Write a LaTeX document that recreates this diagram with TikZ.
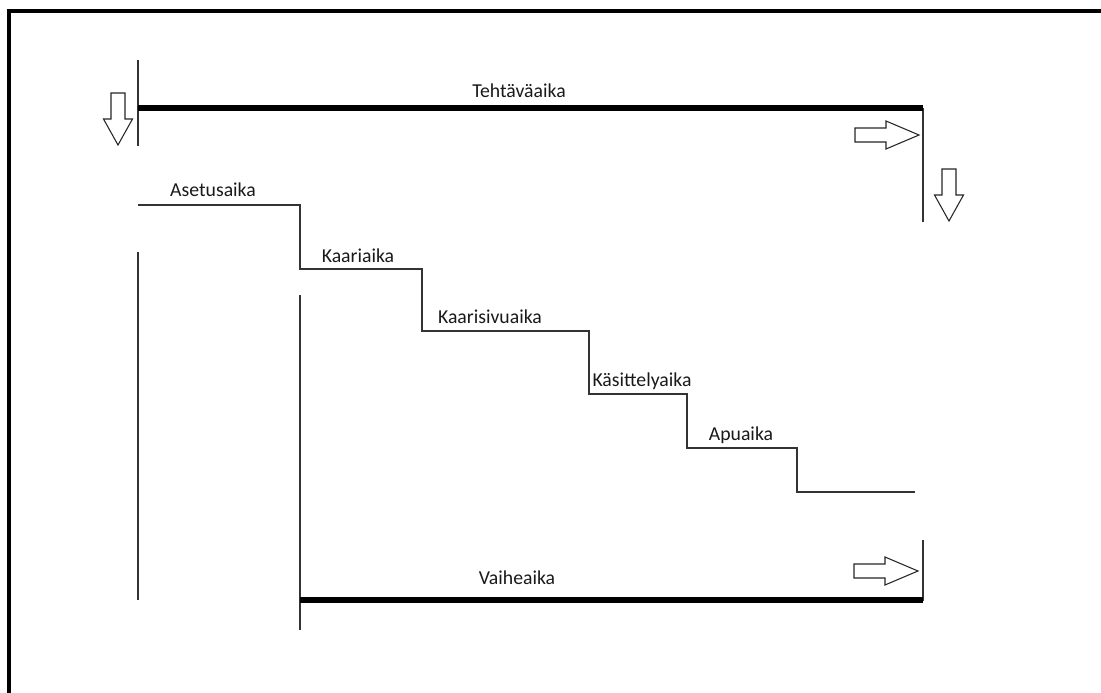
\documentclass[tikz,border=0pt]{standalone}
\usepackage{fontspec}
\setmainfont{Carlito}
\usetikzlibrary{positioning}
\tikzset{
  ohut/.style={draw=black!80, line width=0.9pt},
  paksu/.style={draw=black, line width=4.2pt},
  nimi/.style={font=\fontsize{14.8}{17}\selectfont, text=black!90, inner sep=1pt},
  nuoli/.style={draw=black!85, fill=white, line width=0.8pt, line join=miter}
}
\newcommand{\nuoliOikea}[1]{
\draw[nuoli] (#1) ++(-64,-7) -- ++(31,0) -- ++(0,-7) -- ++(33,14) -- ++(-33,14) -- ++(0,-7) -- ++(-31,0) -- cycle;
}
\newcommand{\nuoliAlas}[1]{
\draw[nuoli] (#1) ++(-7,-52) -- ++(14,0) -- ++(0,26) -- ++(7.5,0) -- ++(-14.5,26) -- ++(-14.5,-26) -- ++(7.5,0) -- cycle;
}

\begin{document}
\begin{tikzpicture}[x=0.75pt, y=-0.75pt]
    \useasboundingbox (0,0) rectangle (1101,693);
    % Kehys
    \draw[line width=3pt] (9,700) -- (9,10.5) -- (1110,10.5);
    % Tehtavaaika
    \coordinate (ta1) at (138,108);
    \coordinate (ta2) at (923,108);
    \draw[ohut] (138,60) -- (138,146);
    \draw[ohut] (923,108) -- (923,222);
    \draw[paksu] (ta1) -- (ta2);
    \node[nimi] (tehtava) at (519,91) {Tehtäväaika};
    \nuoliAlas{118,145}
    \nuoliOikea{919,135}
    \nuoliAlas{949,221}
    % Portaat
    \coordinate (p0) at (138,205);
    \coordinate (p1) at (300,205);
    \coordinate (p2) at (300,269);
    \coordinate (p3) at (422,269);
    \coordinate (p4) at (422,331);
    \coordinate (p5) at (589,331);
    \coordinate (p6) at (589,394);
    \coordinate (p7) at (687,394);
    \coordinate (p8) at (687,448);
    \coordinate (p9) at (797,448);
    \coordinate (p10) at (797,492);
    \coordinate (p11) at (915,492);
    \draw[ohut] (p0) -- (p1) -- (p2) -- (p3) -- (p4) -- (p5) -- (p6) -- (p7) -- (p8) -- (p9) -- (p10) -- (p11);
    \node[nimi] (asetus) at (213,190) {Asetusaika};
    \node[nimi] (kaari) at (358,256) {Kaariaika};
    \node[nimi] (kaarisivu) at (490,317) {Kaarisivuaika};
    \node[nimi] (kasittely) at (642,381) {Käsittelyaika};
    \node[nimi] (apu) at (741,435) {Apuaika};
    % Vaiheaika
    \coordinate (va1) at (300,600);
    \coordinate (va2) at (923,600);
    \draw[ohut] (138,252) -- (138,600);
    \draw[ohut] (300,295) -- (300,630);
    \draw[ohut] (923,540) -- (923,601);
    \draw[paksu] (va1) -- (va2);
    \node[nimi] (vaihe) at (517,578) {Vaiheaika};
    \nuoliOikea{918,571}
\end{tikzpicture}
\end{document}
